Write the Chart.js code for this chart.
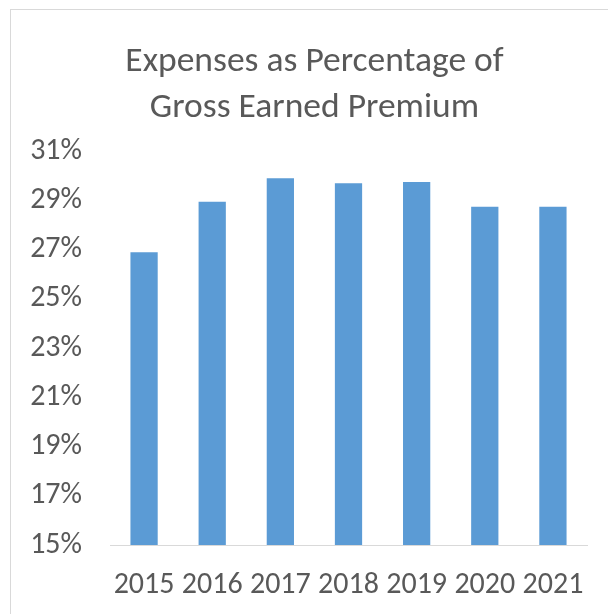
<!DOCTYPE html>
<html>
<head>
<meta charset="utf-8">
<script src="https://cdn.jsdelivr.net/npm/chart.js@4"></script>
<style>
  body { margin: 0; background: #fff; overflow: hidden; }
  #frame { position: absolute; left: 10px; top: 9px; width: 700px; height: 700px; border: 1px solid #d9d9d9; }
  #wrap { position: absolute; left: 0; top: 0; width: 608px; height: 614px; }
</style>
</head>
<body>
<div id="frame"></div>
<div id="wrap"><canvas id="myChart" width="608" height="614"></canvas></div>
<script>
// chart data
const years = ['2015', '2016', '2017', '2018', '2019', '2020', '2021'];
const expensePct = [26.9, 28.95, 29.9, 29.7, 29.75, 28.75, 28.75];
const yTicks = [15, 17, 19, 21, 23, 25, 27, 29, 31];

const fontFamily = 'Carlito, "Open Sans", sans-serif';
const textColor = '#595959';

// the title in the original sits a little right of the canvas centre
const titleShift = {
    id: 'titleShift',
    afterLayout(chart) {
        const t = chart.titleBlock;
        if (t) {
            t.left = 42;
        }
    }
};

const config = {
    type: 'bar',
    data: {
        labels: years,
        datasets: [{
            label: 'Expenses',
            data: expensePct,
            backgroundColor: '#5b9bd5',
            barPercentage: 0.4,
            categoryPercentage: 1
        }]
    },
    options: {
        responsive: false,
        animation: false,
        layout: { padding: { top: 39, right: 21, bottom: 19, left: 0 } },
        plugins: {
            legend: { display: false },
            tooltip: { enabled: false },
            title: {
                display: true,
                text: ['Expenses as Percentage of', 'Gross Earned Premium'],
                color: textColor,
                font: { family: fontFamily, size: 35.5, weight: 'normal', lineHeight: 1.3 },
                padding: { top: 0, bottom: 20 }
            }
        },
        scales: {
            x: {
                grid: { display: false },
                border: { color: '#d9d9d9', width: 1 },
                afterFit: (scale) => { scale.height = 50; },
                ticks: { color: textColor, font: { family: fontFamily, size: 30 }, padding: 14 }
            },
            y: {
                min: 15,
                max: 31,
                afterBuildTicks: (scale) => { scale.ticks = yTicks.map(v => ({ value: v })); },
                afterFit: (scale) => { scale.width = 110; },
                grid: { display: false },
                border: { display: false },
                ticks: {
                    color: textColor,
                    font: { family: fontFamily, size: 30 },
                    padding: 20,
                    callback: (v) => v + '%'
                }
            }
        }
    },
    plugins: [titleShift]
};

const ctx = document.getElementById('myChart').getContext('2d');
const myChart = new Chart(ctx, config);
</script>
</body>
</html>
